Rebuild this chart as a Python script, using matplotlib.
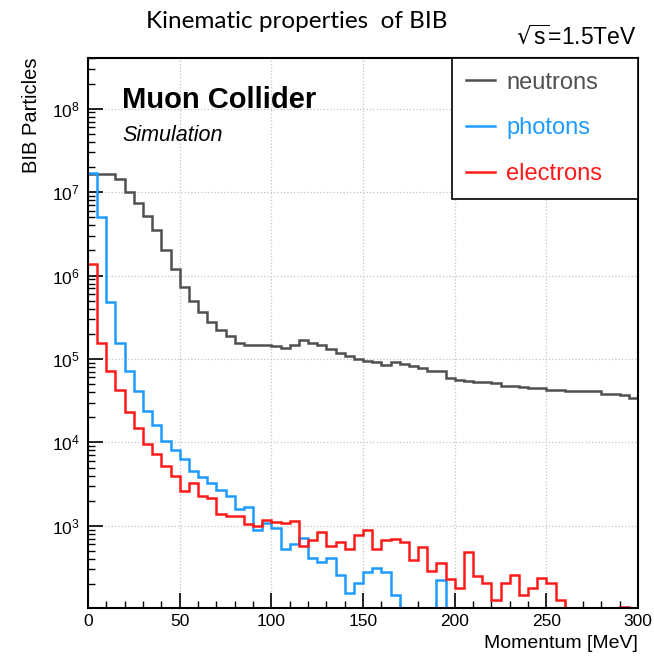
import numpy as np
import matplotlib
matplotlib.use('Agg')
import matplotlib.pyplot as plt
from matplotlib.ticker import MultipleLocator, LogLocator, NullFormatter

plt.rcParams['font.family'] = ['Liberation Sans', 'DejaVu Sans']
plt.rcParams['mathtext.default'] = 'regular'

# ── histogram content: 60 bins of 5 MeV from 0 to 300 MeV ──
edges = np.arange(0, 301, 5)

neutrons = [1.66e7, 1.66e7, 1.64e7, 1.45e7, 1.0e7, 7.4e6, 5.2e6, 3.5e6, 2.0e6, 1.2e6,
            7.2e5, 5.0e5, 3.7e5, 2.75e5, 2.2e5, 1.9e5, 1.55e5, 1.48e5, 1.45e5, 1.45e5,
            1.41e5, 1.35e5, 1.48e5, 1.7e5, 1.55e5, 1.45e5, 1.32e5, 1.17e5, 1.07e5, 1.0e5,
            9.5e4, 9.1e4, 8.5e4, 9.1e4, 8.7e4, 8.3e4, 7.8e4, 7.2e4, 7.1e4, 5.9e4,
            5.6e4, 5.4e4, 5.25e4, 5.25e4, 5.1e4, 4.8e4, 4.7e4, 4.65e4, 4.5e4, 4.45e4,
            4.25e4, 4.2e4, 4.15e4, 4.1e4, 4.1e4, 4.15e4, 3.8e4, 3.75e4, 3.7e4, 3.4e4]

photons = [1.7e7, 5.0e6, 4.8e5, 1.55e5, 7.1e4, 4.1e4, 2.4e4, 1.6e4, 1.05e4, 8.1e3,
           6.3e3, 4.5e3, 3.9e3, 3.3e3, 2.7e3, 2.3e3, 1.6e3, 1.7e3, 890, 1070,
           950, 525, 600, 720, 415, 365, 415, 255, 155, 205,
           280, 315, 280, 150, 0, 0, 0, 0, 225, 0,
           0, 0, 0, 0, 0, 0, 0, 0, 0, 0,
           0, 0, 0, 0, 0, 0, 0, 0, 0, 0]

electrons = [1.38e6, 1.55e5, 7.2e4, 4.2e4, 2.3e4, 1.5e4, 9.5e3, 7.2e3, 5.2e3, 4.0e3,
             2.6e3, 3.3e3, 2.3e3, 2.15e3, 1.4e3, 1.3e3, 1.3e3, 1.05e3, 1.0e3, 1.17e3,
             1.1e3, 1.07e3, 1.15e3, 575, 675, 850, 575, 645, 525, 775,
             890, 525, 675, 690, 645, 390, 550, 290, 355, 230,
             180, 480, 250, 205, 130, 205, 255, 150, 180, 235,
             205, 130, 0, 0, 0, 0, 0, 0, 107, 0]

y_ticks = [1e3, 1e4, 1e5, 1e6, 1e7, 1e8]

series = [('neutrons', neutrons, '#505050'),
          ('photons', photons, '#1E9BFF'),
          ('electrons', electrons, '#FF1A1A')]

Y_LO, Y_HI = 105, 4.1e8

fig = plt.figure(figsize=(6.54, 6.57), dpi=100)
ax = fig.add_axes([88/654, 1 - 607.5/657, 550/654, 550/657])

for name, vals, col in series:
    v = np.asarray(vals, dtype=float)
    v = np.where(v > 0, v, Y_LO)   # empty bins sit on the frame, as in ROOT
    ax.stairs(v, edges, baseline=None, color=col, lw=1.8, label=name)

ax.set_yscale('log')
ax.set_xlim(0, 300)
ax.set_ylim(Y_LO, Y_HI)

ax.xaxis.set_major_locator(MultipleLocator(50))
ax.xaxis.set_minor_locator(MultipleLocator(10))
ax.set_yticks(y_ticks)
ax.yaxis.set_minor_locator(LogLocator(base=10, subs=np.arange(2, 10), numticks=20))
ax.yaxis.set_minor_formatter(NullFormatter())
ax.set_ylim(Y_LO, Y_HI)

ax.tick_params(which='both', direction='in', top=False, right=False, colors='black')
ax.tick_params(which='major', length=11, width=1.2, labelsize=12.5)
ax.tick_params(which='minor', length=5, width=1.0)
ax.tick_params(axis='x', which='major', pad=5)
ax.tick_params(axis='y', which='major', pad=6)
for sp in ax.spines.values():
    sp.set_linewidth(1.5)

ax.grid(True, which='major', ls=':', color='#c4c4c4', lw=0.9)
ax.set_axisbelow(True)

ax.set_xlabel('Momentum [MeV]', loc='right', fontsize=14, labelpad=4)
ax.set_ylabel('BIB Particles', loc='top', fontsize=14.5, labelpad=8)

ax.text(0.062, 0.908, 'Muon Collider', transform=ax.transAxes,
        fontsize=21, fontweight='bold', ha='left', va='baseline')
ax.text(0.062, 0.848, 'Simulation', transform=ax.transAxes,
        fontsize=15.5, fontstyle='italic', ha='left', va='baseline')

leg = ax.legend(loc='upper left', bbox_to_anchor=(0.662, 0.0, 0.338, 1.0),
                mode='expand', borderaxespad=0, fancybox=False, framealpha=1,
                edgecolor='black', fontsize=17, handlelength=1.2,
                handletextpad=0.5, labelspacing=1.0, borderpad=0.6,
                labelcolor='linecolor')
leg.get_frame().set_linewidth(1.2)

fig.text(637/654, 1 - 37/657, r'$\sqrt{s}$=1.5TeV', ha='right', va='center',
         fontsize=16.5)
fig.text(297/654, 1 - 21/657, 'Kinematic properties  of BIB', ha='center',
         va='center', fontsize=17.5, family=['Lato', 'DejaVu Sans'])

fig.savefig('out.png', dpi=100)
